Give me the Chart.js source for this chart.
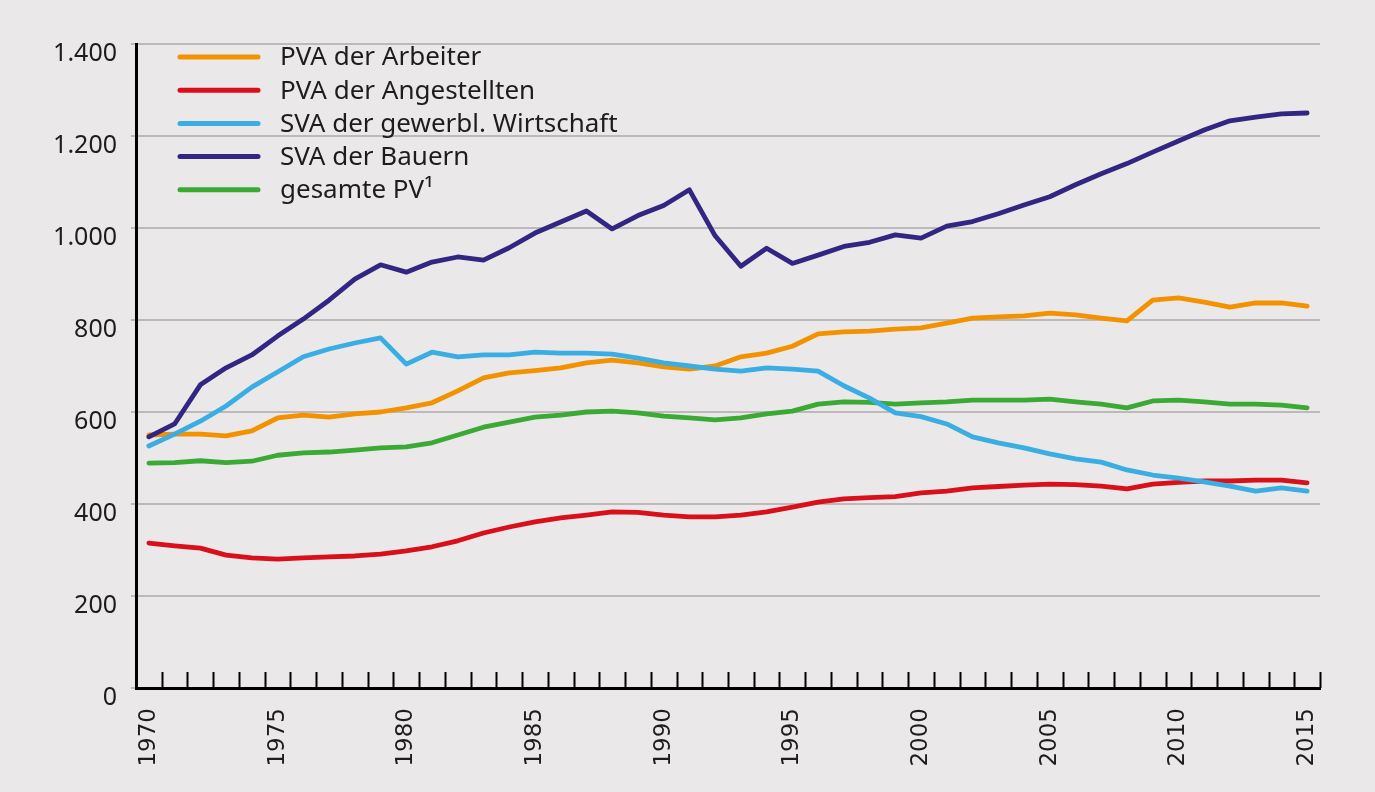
<!DOCTYPE html>
<html>
<head>
<meta charset="utf-8">
<script src="https://cdn.jsdelivr.net/npm/chart.js@4/dist/chart.umd.min.js"></script>
<style>
  html, body { margin: 0; padding: 0; background: #eae8e9; }
  #wrap { width: 1375px; height: 792px; position: relative; }
</style>
</head>
<body>
<div id="wrap"><canvas id="chart"></canvas></div>
<script>
// years 1970..2015
const years = [];
for (let y = 1970; y <= 2015; y++) years.push(String(y));

const yTicks = [0, 200, 400, 600, 800, 1000, 1200, 1400];

const seriesNames = [
  'PVA der Arbeiter',
  'PVA der Angestellten',
  'SVA der gewerbl. Wirtschaft',
  'SVA der Bauern',
  'gesamte PV\u00B9'
];

const arbeiter = [550, 552, 552, 548, 559, 587, 593, 589, 596, 600,
  609, 620, 646, 674, 685, 690, 696, 707, 713, 707,
  698, 693, 700, 720, 728, 743, 770, 774, 776, 780,
  783, 793, 804, 807, 809, 815, 811, 804, 798, 843,
  848, 839, 828, 837, 837, 830];

const angestellten = [315, 309, 304, 289, 283, 280, 283, 285, 287, 291,
  298, 307, 320, 337, 350, 361, 370, 376, 383, 382,
  376, 372, 372, 376, 383, 393, 404, 411, 414, 416,
  424, 428, 435, 438, 441, 443, 442, 439, 433, 443,
  447, 450, 450, 452, 452, 446];

const gewerbl = [526, 552, 580, 613, 654, 687, 720, 737, 750, 761,
  704, 730, 720, 724, 724, 730, 728, 728, 726, 717,
  707, 700, 693, 689, 696, 693, 689, 657, 630, 598,
  590, 574, 546, 533, 522, 509, 498, 491, 474, 463,
  456, 448, 439, 428, 435, 428];

const bauern = [546, 574, 659, 696, 724, 765, 802, 843, 889, 920,
  904, 926, 937, 930, 957, 989, 1013, 1037, 998, 1027,
  1049, 1083, 983, 917, 956, 923, 941, 960, 969, 985,
  978, 1004, 1014, 1031, 1050, 1068, 1094, 1118, 1140, 1165,
  1189, 1213, 1233, 1241, 1248, 1250];

const gesamt = [489, 490, 494, 490, 493, 506, 511, 513, 517, 522,
  524, 533, 550, 567, 578, 589, 593, 600, 602, 598,
  591, 587, 583, 587, 596, 602, 617, 622, 621, 617,
  620, 622, 626, 626, 626, 628, 622, 617, 609, 624,
  626, 622, 617, 617, 615, 609];

const colors = ['#f39200', '#d9101a', '#3aaee2', '#312783', '#3aaa35'];
const drawOrder = [4, 3, 1, 0, 2];
const values = [arbeiter, angestellten, gewerbl, bauern, gesamt];

const datasets = seriesNames.map((name, i) => ({
  label: name,
  data: values[i],
  borderColor: colors[i],
  backgroundColor: colors[i],
  borderWidth: 4.8,
  pointRadius: 0,
  tension: 0,
  fill: false,
  borderCapStyle: 'round',
  borderJoinStyle: 'round',
  order: drawOrder[i]
}));

// small upward ticks on the x axis, between the years
const innerTicks = {
  id: 'innerTicks',
  afterDraw(chart) {
    const x = chart.scales.x;
    const ctx = chart.ctx;
    const step = x.getPixelForValue(1) - x.getPixelForValue(0);
    const bottom = chart.chartArea.bottom;
    ctx.save();
    ctx.strokeStyle = '#000';
    ctx.lineWidth = 2;
    for (let i = 0; i <= years.length; i++) {
      const px = Math.round(x.getPixelForValue(i) - step / 2) + 0.5;
      ctx.beginPath();
      ctx.moveTo(px, bottom);
      ctx.lineTo(px, bottom - 16);
      ctx.stroke();
    }
    ctx.restore();
  }
};

// legend inside the plot, top left
const insideLegend = {
  id: 'insideLegend',
  afterDraw(chart) {
    const ctx = chart.ctx;
    const left = chart.chartArea.left;
    ctx.save();
    ctx.font = '26px "Noto Sans"';
    ctx.textBaseline = 'middle';
    chart.data.datasets.forEach((ds, i) => {
      const y = 57 + i * 33.2;
      ctx.strokeStyle = ds.borderColor;
      ctx.lineWidth = 5;
      ctx.lineCap = 'round';
      ctx.beginPath();
      ctx.moveTo(left + 44, y);
      ctx.lineTo(left + 122, y);
      ctx.stroke();
      ctx.fillStyle = '#1d1d1b';
      ctx.fillText(ds.label, left + 144, y + 1);
    });
    ctx.restore();
  }
};

new Chart(document.getElementById('chart'), {
  type: 'line',
  data: { labels: years, datasets: datasets },
  options: {
    responsive: true,
    maintainAspectRatio: false,
    animation: false,
    layout: { padding: { top: 44, right: 55, left: 0, bottom: 0 } },
    plugins: {
      legend: { display: false },
      tooltip: { enabled: false }
    },
    scales: {
      x: {
        type: 'category',
        offset: true,
        grid: { display: false, drawTicks: false, offset: true },
        border: { display: true, color: '#000', width: 3 },
        ticks: {
          autoSkip: false,
          minRotation: 90,
          maxRotation: 90,
          padding: 20,
          color: '#1d1d1b',
          font: { family: '"DejaVu Sans"', size: 23 },
          callback: function (val, idx) {
            const y = Number(years[idx]);
            return y % 5 === 0 ? years[idx] : '';
          }
        },
        afterFit: function (scale) { scale.height = 104; }
      },
      y: {
        min: 0,
        max: 1400,
        afterBuildTicks: function (scale) {
          scale.ticks = yTicks.map(v => ({ value: v }));
        },
        grid: {
          color: '#bdb9bb',
          lineWidth: 2,
          drawTicks: true,
          tickLength: 5,
          tickColor: '#bdb9bb'
        },
        border: { display: true, color: '#000', width: 3 },
        ticks: {
          padding: 14,
          labelOffset: 10,
          color: '#1d1d1b',
          font: { family: '"Noto Sans"', size: 25 },
          callback: function (v) { return v.toLocaleString('de-DE'); }
        },
        afterFit: function (scale) { scale.width = 136; }
      }
    }
  },
  plugins: [innerTicks, insideLegend]
});
</script>
</body>
</html>
